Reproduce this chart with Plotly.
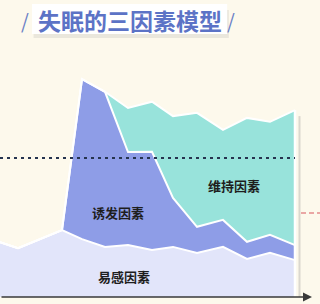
import plotly.graph_objects as go

# time points (arbitrary units)
time_points = [0, 1.8, 6.2, 8.2, 10.5, 12.8, 15.2, 17.3, 19.7, 22.3, 24.7, 27.0, 29.5]
# layer thicknesses (stacked)
predisposing = [18.3, 16.3, 22.3, 19.3, 16.7, 17.3, 15.7, 16.7, 14.7, 16.7, 12.7, 14.7, 12.3]   # 易感因素
precipitating = [0, 0, 0, 53.3, 51.7, 31.0, 32.7, 16.3, 8.7, 9.0, 5.7, 6.0, 5.0]               # 诱发因素
perpetuating = [0, 0, 0, 0, 0, 14.7, 16.7, 27.3, 38.0, 30.0, 41.3, 37.7, 45.0]                 # 维持因素
threshold = 46.3
labels = ["易感因素", "诱发因素", "维持因素"]
title_text = "失眠的三因素模型"

BG = "#FDF9EC"
colors = ["#E2E5FA", "#8E9DE7", "#98E3DB"]

fig = go.Figure()
for vals, col, name in zip([predisposing, precipitating, perpetuating], colors, labels):
    fig.add_trace(go.Scatter(
        x=time_points, y=vals, stackgroup="one", mode="lines",
        line=dict(color="white", width=2), fillcolor=col, name=name,
        hoverinfo="skip"))

total_last = predisposing[-1] + precipitating[-1] + perpetuating[-1]
x_last = time_points[-1]

shapes = [
    # shadow at right edge
    dict(type="line", xref="x", yref="y", x0=x_last + 0.45, x1=x_last + 0.45, y0=0, y1=total_last - 2,
         line=dict(color="rgba(120,120,120,0.25)", width=2), layer="above"),
    # white right edge
    dict(type="line", xref="x", yref="y", x0=x_last, x1=x_last, y0=0, y1=total_last,
         line=dict(color="white", width=2.5), layer="above"),
    # threshold dashed line
    dict(type="line", xref="x", yref="y", x0=0, x1=x_last, y0=threshold, y1=threshold,
         line=dict(color="#26344F", width=2, dash="3px,4px"), layer="above"),
    # red dashed fragment on the right
    dict(type="line", xref="x", yref="y", x0=x_last + 0.6, x1=32.5, y0=28, y1=28,
         line=dict(color="#E48C8C", width=1.5, dash="5px,3px"), layer="above"),
    # title shadow
    dict(type="rect", xref="paper", yref="paper", x0=0.105, x1=0.715, y0=1 - 38 / 297, y1=1 - 10 / 297,
         fillcolor="rgba(150,150,150,0.18)", line=dict(width=0), layer="above"),
    # title box
    dict(type="rect", xref="paper", yref="paper", x0=0.1, x1=0.71, y0=1 - 34 / 297, y1=1 - 4 / 297,
         fillcolor="white", line=dict(width=0), layer="above"),
]

title_y = 1 - 20 / 297
annotations = [
    dict(text="/", x=25 / 320, y=title_y, xref="paper", yref="paper", showarrow=False,
         xanchor="center", yanchor="middle",
         font=dict(family="Noto Sans CJK SC", size=20, color="#6B7FC6")),
    dict(text="/", x=231 / 320, y=title_y, xref="paper", yref="paper", showarrow=False,
         xanchor="center", yanchor="middle",
         font=dict(family="Noto Sans CJK SC", size=20, color="#6B7FC6")),
    dict(text="<b>" + title_text + "</b>", x=130 / 320, y=title_y, xref="paper", yref="paper",
         showarrow=False, xanchor="center", yanchor="middle",
         font=dict(family="Noto Sans CJK SC", size=23, color="#5C73C6")),
    dict(text="<b>" + labels[0] + "</b>", x=12.4, y=7, xref="x", yref="y", showarrow=False,
         font=dict(family="Noto Sans CJK SC", size=13, color="#1E1E1E")),
    dict(text="<b>" + labels[1] + "</b>", x=11.8, y=28.3, xref="x", yref="y", showarrow=False,
         font=dict(family="Noto Sans CJK SC", size=13, color="#1E1E1E")),
    dict(text="<b>" + labels[2] + "</b>", x=23.4, y=37.3, xref="x", yref="y", showarrow=False,
         font=dict(family="Noto Sans CJK SC", size=13, color="#1E1E1E")),
    # x axis with arrow
    dict(text="", x=31.2, y=0, ax=0, ay=0, xref="x", yref="y", axref="x", ayref="y",
         showarrow=True, arrowhead=2, arrowsize=1.2, arrowwidth=1.5, arrowcolor="#3A3A3A"),
]

fig.update_layout(
    width=320, height=304,
    margin=dict(l=0, r=0, t=0, b=7),
    paper_bgcolor=BG, plot_bgcolor=BG,
    showlegend=False, hovermode=False,
    xaxis=dict(range=[0, 32], visible=False, fixedrange=True),
    yaxis=dict(range=[0, 99], visible=False, fixedrange=True),
    shapes=shapes, annotations=annotations,
)

fig.write_html("out.html", config={"displayModeBar": False})
